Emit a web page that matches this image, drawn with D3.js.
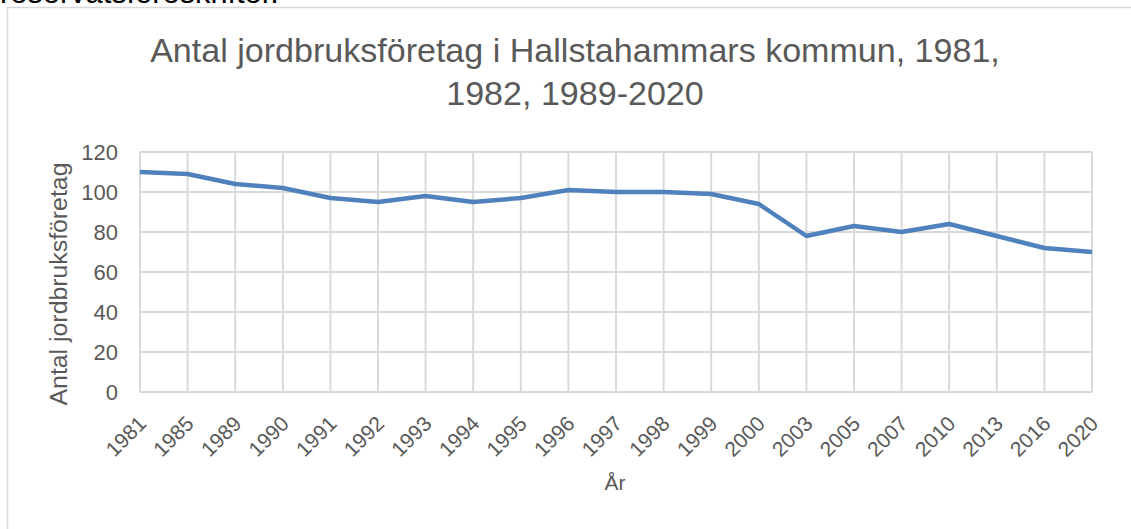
<!DOCTYPE html>
<html>
<head>
<meta charset="utf-8">
<script src="https://cdn.jsdelivr.net/npm/d3@7"></script>
<style>
  body { margin: 0; background: #fff; }
  text { font-family: "Liberation Sans", Arial, sans-serif; }
</style>
</head>
<body>
<div id="chart"></div>
<script>
var years = ["1981", "1985", "1989", "1990", "1991", "1992", "1993", "1994", "1995", "1996",
             "1997", "1998", "1999", "2000", "2003", "2005", "2007", "2010", "2013", "2016", "2020"];
var antal = [110, 109, 104, 102, 97, 95, 98, 95, 97, 101,
             100, 100, 99, 94, 78, 83, 80, 84, 78, 72, 70];
var yTicks = [0, 20, 40, 60, 80, 100, 120];
var titleLines = ["Antal jordbruksföretag i Hallstahammars kommun, 1981,", "1982, 1989-2020"];

var width = 1131, height = 529;
var margin = {top: 152, right: 39, bottom: 137, left: 140};

var svg = d3.select("#chart").append("svg")
  .attr("width", width)
  .attr("height", height);

// scale a text's font so it is as wide as in the picture
function fitWidth(sel, size, target) {
  sel.style("font-size", size + "px");
  var w = sel.node().getComputedTextLength();
  sel.style("font-size", (size * target / w) + "px");
  return size * target / w;
}

// leftover text from the page above the chart (cut off in the picture too)
var above = svg.append("text")
  .attr("x", 0)
  .attr("y", 3)
  .attr("fill", "#000")
  .text("reservatsföreskrifter.");
fitWidth(above, 24, 279);

// chart frame
svg.append("rect")
  .attr("x", 7.5)
  .attr("y", 7.5)
  .attr("width", width + 20)
  .attr("height", height + 20)
  .attr("fill", "none")
  .attr("stroke", "#d9d9d9")
  .attr("stroke-width", 1.5);

var x = d3.scalePoint().domain(years).range([margin.left, width - margin.right]).padding(0);
var y = d3.scaleLinear().domain([0, 120]).range([height - margin.bottom, margin.top]);

// grid
svg.append("g").selectAll("line")
  .data(yTicks)
  .enter().append("line")
  .attr("x1", margin.left).attr("x2", width - margin.right)
  .attr("y1", function(d) { return y(d); }).attr("y2", function(d) { return y(d); })
  .attr("stroke", "#d9d9d9").attr("stroke-width", 2);

svg.append("g").selectAll("line")
  .data(years)
  .enter().append("line")
  .attr("x1", function(d) { return x(d); }).attr("x2", function(d) { return x(d); })
  .attr("y1", y(120)).attr("y2", y(0))
  .attr("stroke", "#d9d9d9").attr("stroke-width", 2);

// y tick labels
var yAxis = svg.append("g")
  .attr("transform", "translate(" + margin.left + ",0)")
  .call(d3.axisLeft(y).tickValues(yTicks).tickSize(0).tickPadding(22));
yAxis.select(".domain").remove();
yAxis.attr("font-family", null).attr("font-size", null);
yAxis.selectAll("text")
  .style("font-size", "22px")
  .attr("fill", "#595959")
  .attr("dy", "0.36em");

// x tick labels
var xAxis = svg.append("g")
  .attr("transform", "translate(0," + y(0) + ")")
  .call(d3.axisBottom(x).tickSize(0));
xAxis.select(".domain").remove();
xAxis.attr("font-family", null).attr("font-size", null);
xAxis.selectAll("text")
  .style("font-size", "21px")
  .attr("fill", "#595959")
  .attr("y", 0)
  .attr("dy", null)
  .style("text-anchor", "end")
  .attr("transform", "translate(7,33) rotate(-45)");

// line
var line = d3.line()
  .x(function(d, i) { return x(years[i]); })
  .y(function(d) { return y(d); });

svg.append("path")
  .datum(antal)
  .attr("d", line)
  .attr("fill", "none")
  .attr("stroke", "#4f81bd")
  .attr("stroke-width", 4.5)
  .attr("stroke-linejoin", "round");

// title
var title = svg.append("g");
title.selectAll("text")
  .data(titleLines)
  .enter().append("text")
  .attr("x", 575)
  .attr("y", function(d, i) { return 62 + i * 43; })
  .attr("text-anchor", "middle")
  .attr("fill", "#595959")
  .text(function(d) { return d; });
var tSize = fitWidth(title.select("text"), 30, 850);
title.selectAll("text").style("font-size", tSize + "px");

// axis titles
var yTitle = svg.append("text")
  .attr("transform", "translate(67,284) rotate(-90)")
  .attr("text-anchor", "middle")
  .attr("fill", "#595959")
  .text("Antal jordbruksföretag");
fitWidth(yTitle, 20, 243);

svg.append("text")
  .attr("x", 615)
  .attr("y", 490)
  .attr("text-anchor", "middle")
  .attr("fill", "#595959")
  .style("font-size", "21px")
  .text("År");
</script>
</body>
</html>
